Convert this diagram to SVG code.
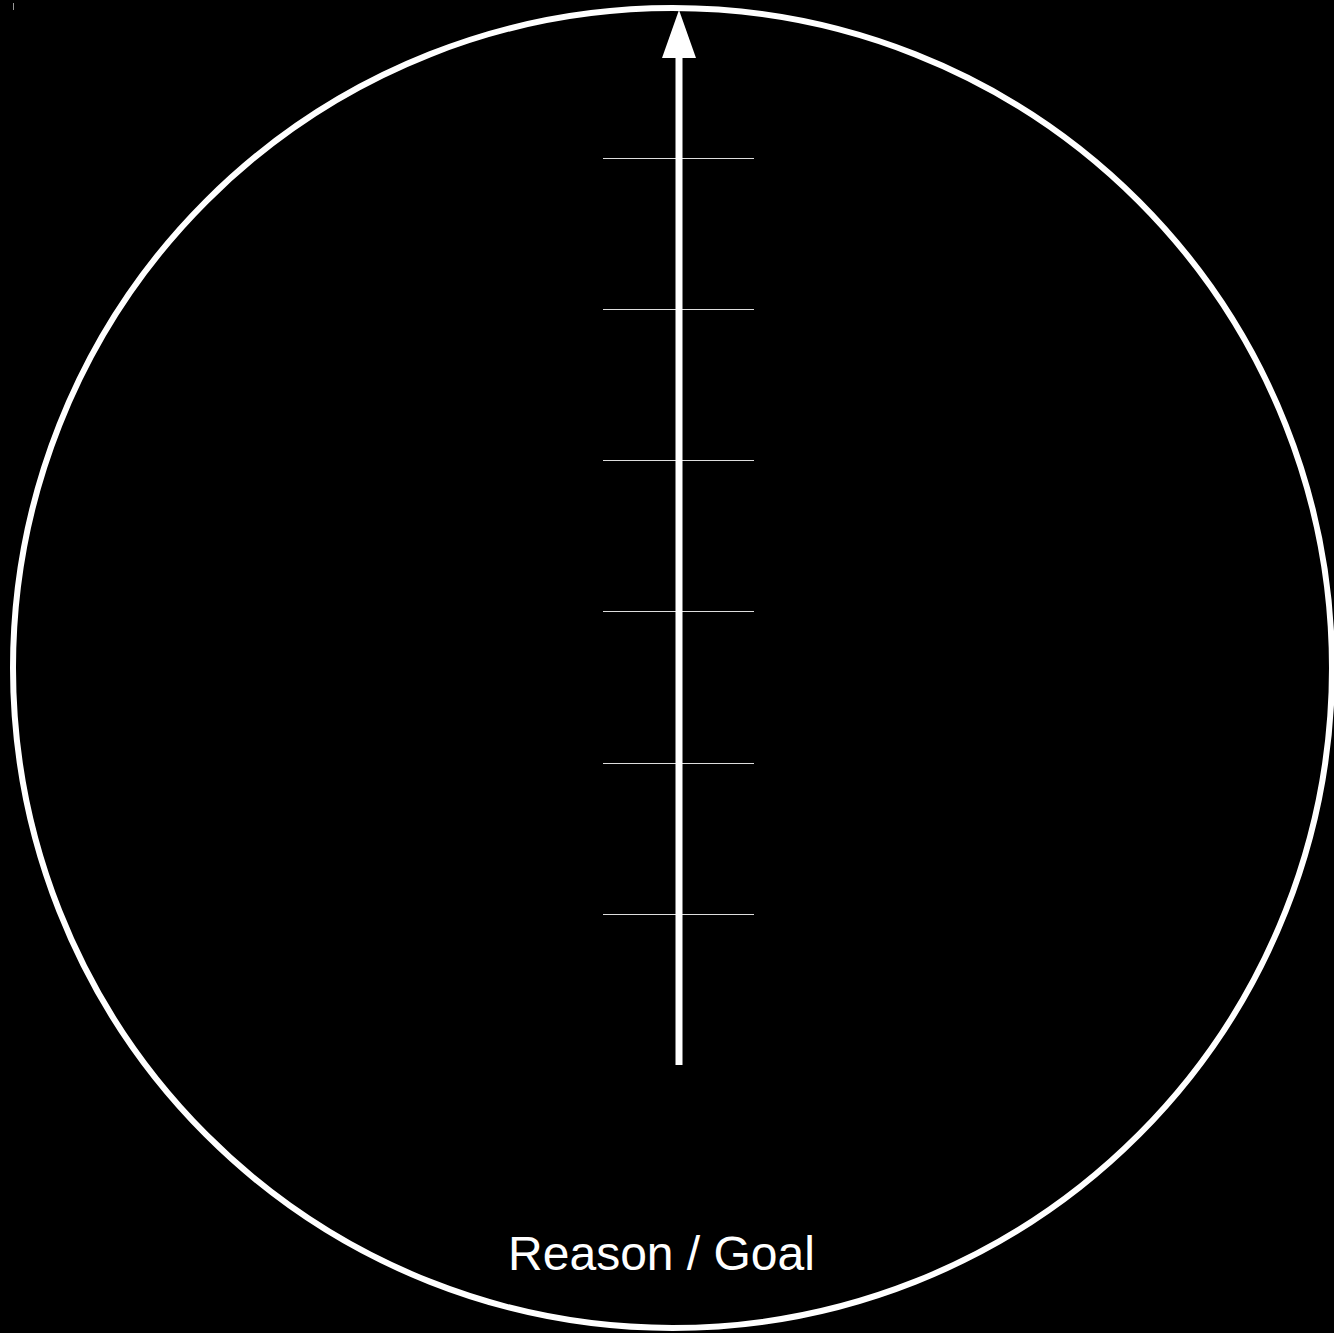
<svg xmlns="http://www.w3.org/2000/svg" width="1334" height="1333" viewBox="0 0 1334 1333">
<style>
.tick{stroke:#dddddd;stroke-width:1}
.lbl{font-family:"Liberation Sans",Arial,sans-serif;font-size:48px;fill:#ffffff}
</style>
<defs>
<marker id="ah" markerUnits="userSpaceOnUse" markerWidth="50" markerHeight="36" refX="0" refY="18" orient="auto" viewBox="0 0 50 36">
<path d="M0 1 L48 18 L0 35 Z" fill="#ffffff"/>
</marker>
</defs>
<rect width="1334" height="1333" fill="#000000"/>
<rect x="13" y="3" width="1" height="7" fill="#999999"/>
<g id="circle">
<ellipse cx="672.5" cy="668" rx="659.5" ry="660" fill="none" stroke="#ffffff" stroke-width="6"/>
</g>
<g id="ticks">
<line class="tick" x1="603" y1="158.5" x2="754" y2="158.5"/>
<line class="tick" x1="603" y1="309.5" x2="754" y2="309.5"/>
<line class="tick" x1="603" y1="460.5" x2="754" y2="460.5"/>
<line class="tick" x1="603" y1="611.5" x2="754" y2="611.5"/>
<line class="tick" x1="603" y1="763.5" x2="754" y2="763.5"/>
<line class="tick" x1="603" y1="914.5" x2="754" y2="914.5"/>
</g>
<g id="connectors">
<line x1="679" y1="1065" x2="679" y2="58" stroke="#ffffff" stroke-width="7" marker-end="url(#ah)"/>
</g>
<g id="label">
<text class="lbl" x="661.5" y="1270" text-anchor="middle">Reason / Goal</text>
</g>
</svg>
